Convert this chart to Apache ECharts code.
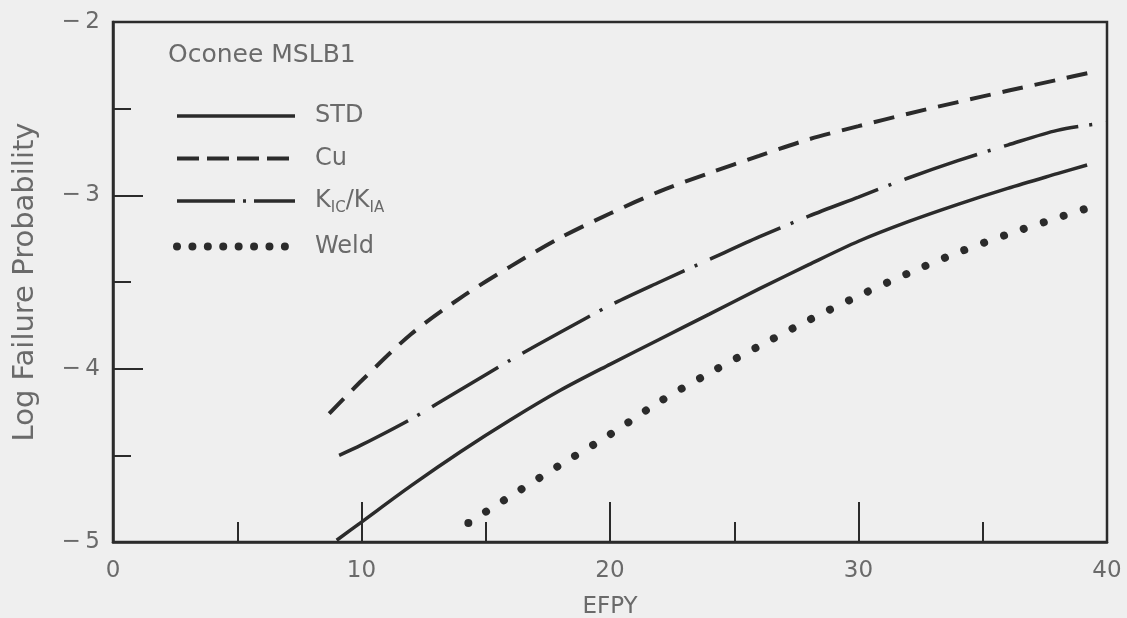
<!DOCTYPE html>
<html>
<head>
<meta charset="utf-8">
<script src="https://cdn.jsdelivr.net/npm/echarts@6/dist/echarts.min.js"></script>
<style>
  html, body { margin: 0; padding: 0; background: #efefef; }
  #chart { width: 1127px; height: 618px; }
</style>
</head>
<body>
<div id="chart"></div>
<script>
// Log failure probability vs. effective full-power years (EFPY)
const xTicks = [0, 10, 20, 30, 40];
const yTicks = [-5, -4, -3, -2];

const stdX  = [9, 10, 12, 14, 16, 18, 20, 22, 24, 26, 28, 30, 32, 34, 36, 38, 39.2];
const stdY  = [-4.99, -4.885, -4.675, -4.478, -4.295, -4.125, -3.975, -3.83, -3.685, -3.54, -3.40, -3.265, -3.152, -3.052, -2.96, -2.875, -2.825];

const cuX   = [8.7, 10, 12, 14, 16, 18, 20, 22, 24, 26, 28, 30, 32, 34, 36, 38, 39.6];
const cuY   = [-4.26, -4.07, -3.80, -3.59, -3.41, -3.245, -3.105, -2.977, -2.871, -2.772, -2.677, -2.601, -2.529, -2.462, -2.397, -2.334, -2.283];

const kX    = [9.1, 10, 12, 14, 16, 18, 20, 22, 24, 26, 28, 30, 32, 34, 36, 38, 40];
const kY    = [-4.50, -4.44, -4.29, -4.12, -3.95, -3.79, -3.635, -3.50, -3.37, -3.24, -3.12, -3.01, -2.90, -2.80, -2.71, -2.625, -2.58];

const weldX = [14.3, 16, 18, 20, 22, 24, 26, 28, 30, 32, 34, 36, 38, 39.2];
const weldY = [-4.89, -4.735, -4.555, -4.38, -4.19, -4.025, -3.87, -3.72, -3.58, -3.45, -3.33, -3.225, -3.13, -3.075];

const seriesNames = ['STD', 'Cu', 'KIC/KIA', 'Weld'];

const INK = '#2b2b2b';
const TEXT = '#6a6a6a';
const FONT = 'DejaVu Sans';

function pairs(xs, ys) { return xs.map((x, i) => [x, ys[i]]); }

const chart = echarts.init(document.getElementById('chart'), null, { renderer: 'canvas' });

chart.setOption({
  animation: false,
  backgroundColor: '#efefef',
  title: {
    text: 'Oconee MSLB1',
    left: 168, top: 43, padding: 0,
    textStyle: { fontFamily: FONT, fontSize: 25, fontWeight: 'normal', color: TEXT }
  },
  grid: {
    left: 113, top: 22, right: 20, bottom: 76,
    outerBoundsMode: 'none',
    show: true, borderColor: INK, borderWidth: 2.5, backgroundColor: 'transparent'
  },
  legend: {
    orient: 'vertical',
    left: 173, top: 104, padding: 0,
    itemWidth: 118, itemHeight: 30, itemGap: 18.5,
    selectedMode: false,
    itemStyle: { opacity: 0, borderWidth: 0 },
    data: [
      { name: 'STD',     lineStyle: { width: 3.5, type: 'solid' } },
      { name: 'Cu',      lineStyle: { width: 4, type: [22, 8] } },
      { name: 'KIC/KIA', lineStyle: { width: 3.5, type: [58, 8, 3, 8] } },
      { name: 'Weld',    lineStyle: { width: 8, type: [0.01, 15.4], cap: 'round' } }
    ],
    formatter: function (name) {
      if (name === 'KIC/KIA') return '{f|K}{s|IC}{m|/K}{s|IA}';
      return '{f|' + name + '}';
    },
    textStyle: {
      color: TEXT, fontFamily: FONT, fontSize: 24,
      rich: {
        f: { color: TEXT, fontFamily: FONT, fontSize: 24, lineHeight: 30, padding: [0, 0, 0, 15], verticalAlign: 'middle' },
        m: { color: TEXT, fontFamily: FONT, fontSize: 24, lineHeight: 30, verticalAlign: 'middle' },
        s: { color: TEXT, fontFamily: FONT, fontSize: 15, lineHeight: 10, verticalAlign: 'bottom' }
      }
    }
  },
  xAxis: {
    type: 'value',
    min: xTicks[0], max: xTicks[xTicks.length - 1], interval: 10,
    name: 'EFPY', nameLocation: 'middle', nameGap: 54,
    nameTextStyle: { fontFamily: FONT, fontSize: 23, color: TEXT },
    axisLine: { show: true, onZero: false, lineStyle: { color: INK, width: 2.5 } },
    axisTick: { show: true, inside: true, length: 40, lineStyle: { color: INK, width: 2 } },
    minorTick: { show: true, splitNumber: 2, length: 20, lineStyle: { color: INK, width: 2 } },
    axisLabel: { margin: 18, fontFamily: FONT, fontSize: 23, color: TEXT },
    splitLine: { show: false }
  },
  yAxis: {
    type: 'value',
    min: yTicks[0], max: yTicks[yTicks.length - 1], interval: 1,
    name: 'Log Failure Probability', nameLocation: 'middle', nameGap: 73,
    nameTextStyle: { fontFamily: FONT, fontSize: 29, color: TEXT },
    axisLine: { show: true, onZero: false, lineStyle: { color: INK, width: 2.5 } },
    axisTick: { show: true, inside: true, length: 30, lineStyle: { color: INK, width: 2 } },
    minorTick: { show: true, splitNumber: 2, length: 18, lineStyle: { color: INK, width: 2 } },
    axisLabel: {
      margin: 13, fontFamily: FONT, fontSize: 23, color: TEXT,
      formatter: v => '\u2212\u2009' + Math.abs(v)
    },
    splitLine: { show: false }
  },
  series: [
    {
      name: seriesNames[0], type: 'line', data: pairs(stdX, stdY),
      symbol: 'none', smooth: 0.3, color: INK,
      lineStyle: { color: INK, width: 3.5, type: 'solid' }
    },
    {
      name: seriesNames[1], type: 'line', data: pairs(cuX, cuY),
      symbol: 'none', smooth: 0.3, color: INK,
      lineStyle: { color: INK, width: 4, type: [21, 12] }
    },
    {
      name: seriesNames[2], type: 'line', data: pairs(kX, kY),
      symbol: 'none', smooth: 0.3, color: INK,
      lineStyle: { color: INK, width: 3.5, type: [77, 11, 3, 14] }
    },
    {
      name: seriesNames[3], type: 'line', data: pairs(weldX, weldY),
      symbol: 'none', smooth: 0.3, color: INK,
      lineStyle: { color: INK, width: 8, type: [0.01, 21], cap: 'round' }
    }
  ]
});
</script>
</body>
</html>
